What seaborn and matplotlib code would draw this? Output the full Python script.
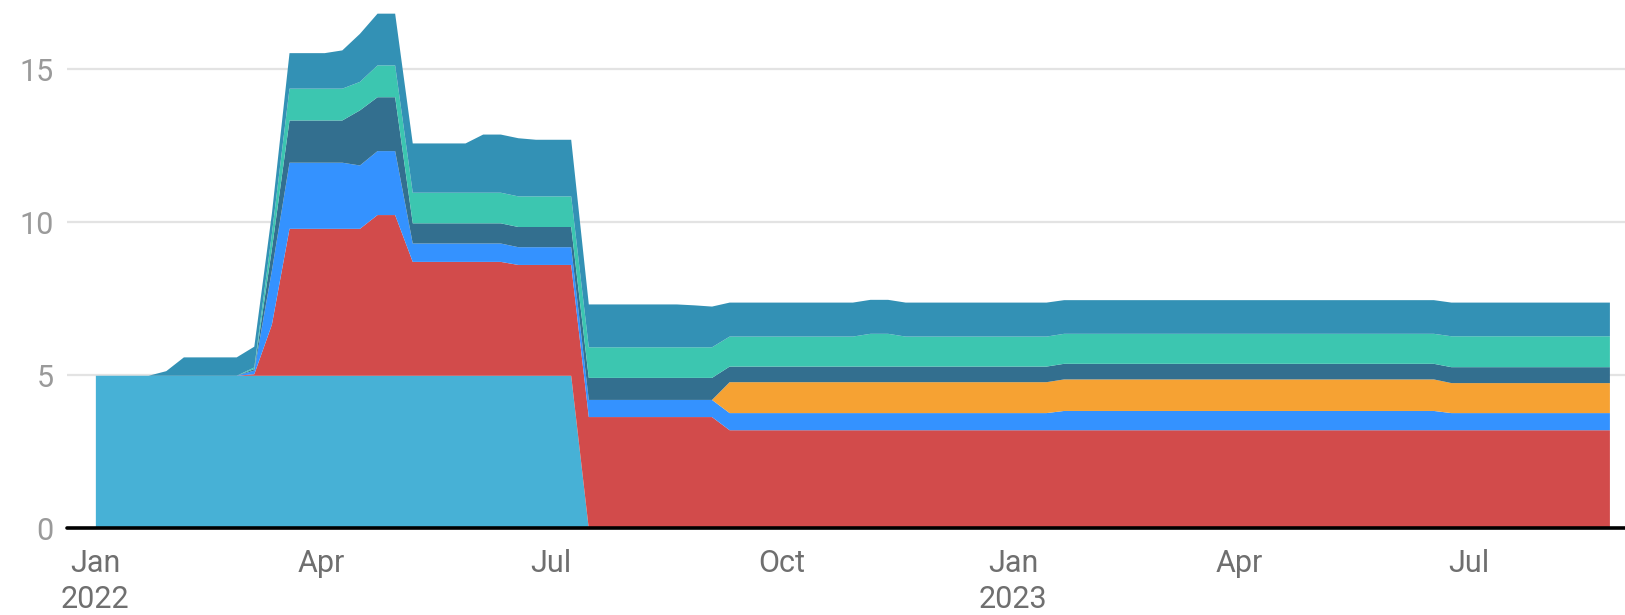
import pandas as pd
import numpy as np
import matplotlib
matplotlib.use("Agg")
import matplotlib.pyplot as plt
import matplotlib.dates as mdates
import seaborn as sns

## weekly values, Saturdays from 1 Jan 2022 (87 weeks), bottom layer first
weeks = pd.date_range("2022-01-01", periods=87, freq="7D")

light_blue = [
    5.0, 5.0, 5.0, 5.0, 5.0, 5.0, 5.0, 5.0, 5.0, 5.0,
    5.0, 5.0, 5.0, 5.0, 5.0, 5.0, 5.0, 5.0, 5.0, 5.0,
    5.0, 5.0, 5.0, 5.0, 5.0, 5.0, 5.0, 5.0, 0, 0,
    0, 0, 0, 0, 0, 0, 0, 0, 0, 0,
    0, 0, 0, 0, 0, 0, 0, 0, 0, 0,
    0, 0, 0, 0, 0, 0, 0, 0, 0, 0,
    0, 0, 0, 0, 0, 0, 0, 0, 0, 0,
    0, 0, 0, 0, 0, 0, 0, 0, 0, 0,
    0, 0, 0, 0, 0, 0, 0,
]
red = [
    0, 0, 0, 0, 0, 0, 0, 0, 0, 0.05,
    1.67, 4.8, 4.8, 4.8, 4.8, 4.8, 5.25, 5.25, 3.72, 3.72,
    3.72, 3.72, 3.72, 3.72, 3.62, 3.62, 3.62, 3.62, 3.65, 3.65,
    3.65, 3.65, 3.65, 3.65, 3.65, 3.65, 3.22, 3.22, 3.22, 3.22,
    3.22, 3.22, 3.22, 3.22, 3.22, 3.22, 3.22, 3.22, 3.22, 3.22,
    3.22, 3.22, 3.22, 3.22, 3.22, 3.22, 3.22, 3.22, 3.22, 3.22,
    3.22, 3.22, 3.22, 3.22, 3.22, 3.22, 3.22, 3.22, 3.22, 3.22,
    3.22, 3.22, 3.22, 3.22, 3.22, 3.22, 3.22, 3.22, 3.22, 3.22,
    3.22, 3.22, 3.22, 3.22, 3.22, 3.22, 3.22,
]
blue = [
    0, 0, 0, 0, 0, 0, 0, 0, 0, 0.12,
    1.77, 2.16, 2.16, 2.16, 2.16, 2.07, 2.09, 2.09, 0.6, 0.6,
    0.6, 0.6, 0.6, 0.6, 0.58, 0.58, 0.58, 0.58, 0.56, 0.56,
    0.56, 0.56, 0.56, 0.56, 0.56, 0.56, 0.56, 0.56, 0.56, 0.56,
    0.56, 0.56, 0.56, 0.56, 0.56, 0.56, 0.56, 0.56, 0.56, 0.56,
    0.56, 0.56, 0.56, 0.56, 0.56, 0.63, 0.63, 0.63, 0.63, 0.63,
    0.63, 0.63, 0.63, 0.63, 0.63, 0.63, 0.63, 0.63, 0.63, 0.63,
    0.63, 0.63, 0.63, 0.63, 0.63, 0.63, 0.63, 0.56, 0.56, 0.56,
    0.56, 0.56, 0.56, 0.56, 0.56, 0.56, 0.56,
]
orange = [
    0, 0, 0, 0, 0, 0, 0, 0, 0, 0,
    0, 0, 0, 0, 0, 0, 0, 0, 0, 0,
    0, 0, 0, 0, 0, 0, 0, 0, 0, 0,
    0, 0, 0, 0, 0, 0, 1.01, 1.01, 1.01, 1.01,
    1.01, 1.01, 1.01, 1.01, 1.01, 1.01, 1.01, 1.01, 1.01, 1.01,
    1.01, 1.01, 1.01, 1.01, 1.01, 1.03, 1.03, 1.03, 1.03, 1.03,
    1.03, 1.03, 1.03, 1.03, 1.03, 1.03, 1.03, 1.03, 1.03, 1.03,
    1.03, 1.03, 1.03, 1.03, 1.03, 1.03, 1.03, 0.98, 0.98, 0.98,
    0.98, 0.98, 0.98, 0.98, 0.98, 0.98, 0.98,
]
dark_teal = [
    0, 0, 0, 0, 0, 0, 0, 0, 0, 0.05,
    0.7, 1.38, 1.38, 1.38, 1.38, 1.8, 1.76, 1.76, 0.66, 0.66,
    0.66, 0.66, 0.66, 0.66, 0.66, 0.66, 0.66, 0.66, 0.72, 0.72,
    0.72, 0.72, 0.72, 0.72, 0.72, 0.72, 0.51, 0.51, 0.51, 0.51,
    0.51, 0.51, 0.51, 0.51, 0.51, 0.51, 0.51, 0.51, 0.51, 0.51,
    0.51, 0.51, 0.51, 0.51, 0.51, 0.51, 0.51, 0.51, 0.51, 0.51,
    0.51, 0.51, 0.51, 0.51, 0.51, 0.51, 0.51, 0.51, 0.51, 0.51,
    0.51, 0.51, 0.51, 0.51, 0.51, 0.51, 0.51, 0.52, 0.52, 0.52,
    0.52, 0.52, 0.52, 0.52, 0.52, 0.52, 0.52,
]
teal = [
    0, 0, 0, 0, 0, 0, 0, 0, 0, 0.05,
    0.5, 1.04, 1.04, 1.04, 1.04, 0.93, 1.04, 1.04, 1.0, 1.0,
    1.0, 1.0, 1.0, 1.0, 1.0, 1.0, 1.0, 1.0, 1.0, 1.0,
    1.0, 1.0, 1.0, 1.0, 1.0, 1.0, 0.98, 0.98, 0.98, 0.98,
    0.98, 0.98, 0.98, 0.98, 1.07, 1.07, 0.98, 0.98, 0.98, 0.98,
    0.98, 0.98, 0.98, 0.98, 0.98, 0.98, 0.98, 0.98, 0.98, 0.98,
    0.98, 0.98, 0.98, 0.98, 0.98, 0.98, 0.98, 0.98, 0.98, 0.98,
    0.98, 0.98, 0.98, 0.98, 0.98, 0.98, 0.98, 1.01, 1.01, 1.01,
    1.01, 1.01, 1.01, 1.01, 1.01, 1.01, 1.01,
]
steel = [
    0, 0, 0, 0, 0.15, 0.6, 0.6, 0.6, 0.6, 0.68,
    0.66, 1.16, 1.16, 1.16, 1.25, 1.57, 1.69, 1.69, 1.61, 1.61,
    1.61, 1.61, 1.9, 1.9, 1.9, 1.85, 1.85, 1.85, 1.4, 1.4,
    1.4, 1.4, 1.4, 1.4, 1.37, 1.33, 1.11, 1.11, 1.11, 1.11,
    1.11, 1.11, 1.11, 1.11, 1.11, 1.11, 1.11, 1.11, 1.11, 1.11,
    1.11, 1.11, 1.11, 1.11, 1.11, 1.1, 1.1, 1.1, 1.1, 1.1,
    1.1, 1.1, 1.1, 1.1, 1.1, 1.1, 1.1, 1.1, 1.1, 1.1,
    1.1, 1.1, 1.1, 1.1, 1.1, 1.1, 1.1, 1.1, 1.1, 1.1,
    1.1, 1.1, 1.1, 1.1, 1.1, 1.1, 1.1,
]

layer_colors = ["#47b1d6", "#d24b4b", "#3492ff", "#f6a233", "#336f8f", "#3cc6b0", "#3391b5"]

tick_dates = pd.to_datetime(["2022-01-01", "2022-04-01", "2022-07-01", "2022-10-01",
                             "2023-01-01", "2023-04-01", "2023-07-01"])
tick_labels = ["Jan\n2022", "Apr", "Jul", "Oct", "Jan\n2023", "Apr", "Jul"]

## style
sns.set_style("white")
plt.rcParams["font.family"] = ["Roboto", "DejaVu Sans"]

fig = plt.figure(figsize=(16.25, 6.15), dpi=100)
ax = fig.add_axes([0.0415, 0.141, 0.9585, 0.859])

ax.stackplot(weeks, light_blue, red, blue, orange, dark_teal, teal, steel,
             colors=layer_colors, linewidth=0, zorder=2)

for v in [5, 10, 15]:
    ax.axhline(v, color="#e3e3e3", lw=1.6, zorder=1)
ax.axhline(0, color="black", lw=2.6, zorder=3, clip_on=False)

start = mdates.date2num(pd.Timestamp("2022-01-01"))
ax.set_xlim(start - 11.1, start + 608.2)
ax.set_ylim(0, 17.26)

ax.set_yticks([0, 5, 10, 15])
ax.set_yticklabels(["0", "5", "10", "15"])
ax.set_xticks(tick_dates)
ax.set_xticklabels(tick_labels, linespacing=1.28)

ax.tick_params(axis="y", length=0, pad=10, labelsize=22, labelcolor="#9a9a9a")
ax.tick_params(axis="x", length=0, pad=15, labelsize=22, labelcolor="#6f6f6f")
for lab in ax.get_xticklabels():
    lab.set_va("top")

sns.despine(ax=ax, left=True, bottom=True, top=True, right=True)
ax.grid(False)

fig.savefig("out.png", dpi=100)
